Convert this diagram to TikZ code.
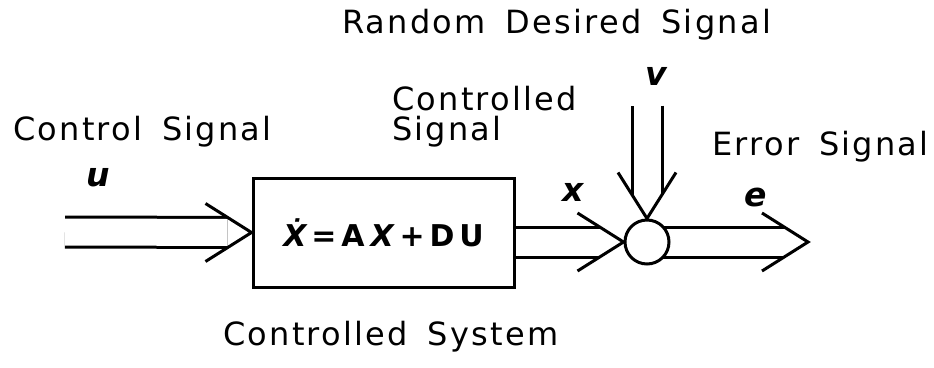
\documentclass[tikz,border=0pt]{standalone}
\usepackage{fontspec}
\setmainfont{DejaVu Sans}
\newfontfamily\lblfont{DejaVu Sans}[LetterSpace=7,WordSpace=1.6]
\newfontfamily\eqfont{DejaVu Sans}[LetterSpace=16]
\usetikzlibrary{calc,backgrounds}

\tikzset{
  sig/.style={line width=3pt},
  dsig/.style={sig, double, double distance=27pt, shorten >=24pt},
  lbl/.style={inner sep=0pt, anchor=base west, font=\fontsize{32}{30}\lblfont},
  var/.style={inner sep=0pt, font=\fontsize{33}{30}\selectfont\bfseries\itshape},
}

\begin{document}
\begin{tikzpicture}[x=1pt,y=-1pt]
    \useasboundingbox (0,0) rectangle (934,367);

        % 1. Blocco del sistema e nodo sommatore
        \node[sig, draw, fill=white, minimum width=261pt, minimum height=109pt, inner sep=0pt,
              font=\fontsize{30}{30}\eqfont\bfseries] (box) at (383.5,232.5)
              {{\itshape Ẋ}\hspace{5pt}=A\hspace{6pt}{\itshape X}\hspace{6pt}+DU};
        \node[sig, draw, fill=white, circle, minimum size=44pt, inner sep=0pt] (sum) at (647,242) {};

        % 2. Etichette dei segnali
        \node[lbl] (rds) at (342,33) {Random Desired Signal};
        \node[lbl] (cs) at (13,140) {Control Signal};
        \node[lbl, align=left] (ctl) at (392,140) {Controlled\\Signal};
        \node[lbl] (es) at (712,155) {Error Signal};
        \node[lbl] (csys) at (223,345) {Controlled System};
        \node[var] (u) at (98,178) {u};
        \node[var] (x) at (573,192) {x};
        \node[var] (e) at (756,197) {e};
        \node[var] (v) at (656,76) {v};

        % 3. Estremi liberi delle frecce
        \coordinate (uin) at (65,232);
        \coordinate (vin) at ($(sum.north)+(0,-113)$);
        \coordinate (eout) at (808,242);

        % 4. Aste doppie (sotto ai blocchi)
        \begin{scope}[on background layer]
            \draw[dsig] (uin) -- (box.west);
            \draw[dsig] (box.east |- sum.center) -- (sum.west);
            \draw[dsig] (vin) -- (sum.north);
            \draw[dsig] (sum.center) -- (eout);
        \end{scope}

        % 5. Punte delle frecce
        \draw[sig] ($(box.west)+(-46,-29)$) -- (box.west) -- ($(box.west)+(-46,29)$);
        \draw[sig] ($(sum.west)+(-46,-29)$) -- (sum.west) -- ($(sum.west)+(-46,29)$);
        \draw[sig] ($(sum.north)+(-29,-46)$) -- (sum.north) -- ($(sum.north)+(29,-46)$);
        \draw[sig] ($(eout)+(-46,-29)$) -- (eout) -- ($(eout)+(-46,29)$);

\end{tikzpicture}
\end{document}
